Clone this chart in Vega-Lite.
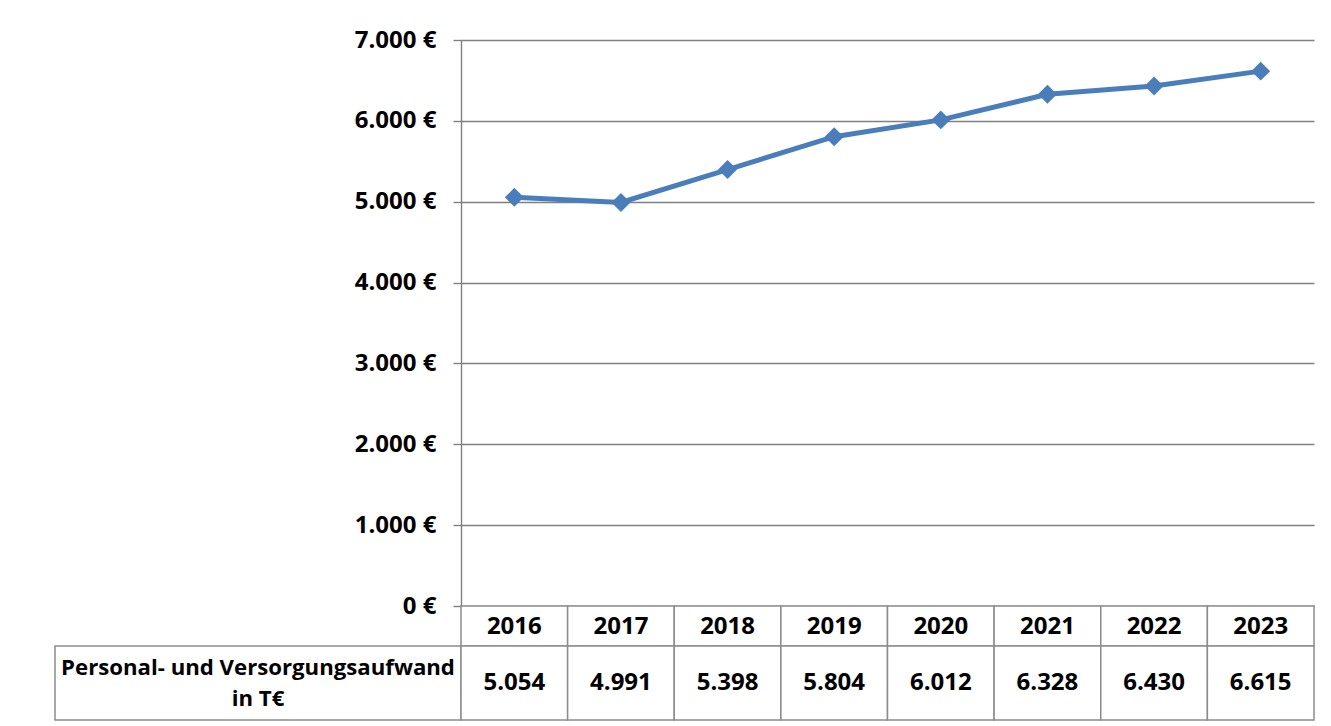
{
  "$schema": "https://vega.github.io/schema/vega-lite/v6.json",
  "padding": {"left": 54, "top": 28, "right": 0, "bottom": 0},
  "background": "white",
  "config": {
    "view": {"stroke": null},
    "font": "Open Sans",
    "locale": {"number": {"decimal": ",", "thousands": ".", "grouping": [3], "currency": ["", " €"]}}
  },
  "datasets": {
    "werte": [
      {"Jahr": "2016", "Aufwand": 5054},
      {"Jahr": "2017", "Aufwand": 4991},
      {"Jahr": "2018", "Aufwand": 5398},
      {"Jahr": "2019", "Aufwand": 5804},
      {"Jahr": "2020", "Aufwand": 6012},
      {"Jahr": "2021", "Aufwand": 6328},
      {"Jahr": "2022", "Aufwand": 6430},
      {"Jahr": "2023", "Aufwand": 6615}
    ]
  },
  "columns": 2,
  "spacing": 0,
  "bounds": "flush",
  "concat": [
    {
      "width": 406, "height": 566,
      "data": {"values": [{}]},
      "mark": {"type": "text"},
      "encoding": {"text": {"value": ""}}
    },
    {
      "width": 853, "height": 566,
      "data": {"name": "werte"},
      "encoding": {
        "x": {"field": "Jahr", "type": "ordinal", "scale": {"type": "point", "padding": 0.5}, "axis": null},
        "y": {
          "field": "Aufwand", "type": "quantitative",
          "scale": {"domain": [0, 7000], "nice": false},
          "axis": {
            "values": [0, 1000, 2000, 3000, 4000, 5000, 6000, 7000],
            "format": "$,.0f", "title": null, "grid": true,
            "gridColor": "#808080", "gridWidth": 1.4,
            "domainColor": "#808080", "domainWidth": 1.4,
            "tickColor": "#808080", "tickWidth": 1.4, "tickSize": 8,
            "labelFontSize": 24, "labelFontWeight": "bold", "labelColor": "black", "labelPadding": 17,
            "labelFont": "Open Sans"
          }
        }
      },
      "layer": [
        {"mark": {"type": "line", "color": "#4a7ebb", "strokeWidth": 5}},
        {"mark": {"type": "point", "shape": "diamond", "filled": true, "size": 360, "color": "#4a7ebb", "opacity": 1}}
      ]
    },
    {
      "width": 406, "height": 40,
      "data": {"values": [{}]},
      "mark": {"type": "text"},
      "encoding": {"text": {"value": ""}}
    },
    {
      "width": 853, "height": 40,
      "data": {"name": "werte"},
      "encoding": {
        "x": {"field": "Jahr", "type": "ordinal", "scale": {"type": "band", "paddingInner": 0, "paddingOuter": 0}, "axis": null}
      },
      "layer": [
        {"mark": {"type": "rect", "fill": "white", "stroke": "#8c8c8c", "strokeWidth": 1.5}},
        {"mark": {"type": "text", "fontSize": 24, "fontWeight": "bold", "color": "black", "baseline": "middle", "dy": 1}, "encoding": {"text": {"field": "Jahr"}}}
      ]
    },
    {
      "width": 406, "height": 74,
      "view": {"stroke": "#8c8c8c", "strokeWidth": 1.5},
      "data": {"values": [{"Bezeichnung": "Personal- und Versorgungsaufwand\nin T€"}]},
      "mark": {"type": "text", "fontSize": 22.2, "fontWeight": "bold", "color": "black", "lineBreak": "\n", "align": "center", "baseline": "middle", "lineHeight": 31, "dy": -15},
      "encoding": {"text": {"field": "Bezeichnung"}}
    },
    {
      "width": 853, "height": 74,
      "data": {"name": "werte"},
      "encoding": {
        "x": {"field": "Jahr", "type": "ordinal", "scale": {"type": "band", "paddingInner": 0, "paddingOuter": 0}, "axis": null}
      },
      "layer": [
        {"mark": {"type": "rect", "fill": "white", "stroke": "#8c8c8c", "strokeWidth": 1.5}},
        {"mark": {"type": "text", "fontSize": 24, "fontWeight": "bold", "color": "black", "baseline": "middle"}, "encoding": {"text": {"field": "Aufwand", "type": "quantitative", "format": ",.0f"}}}
      ]
    }
  ]
}
